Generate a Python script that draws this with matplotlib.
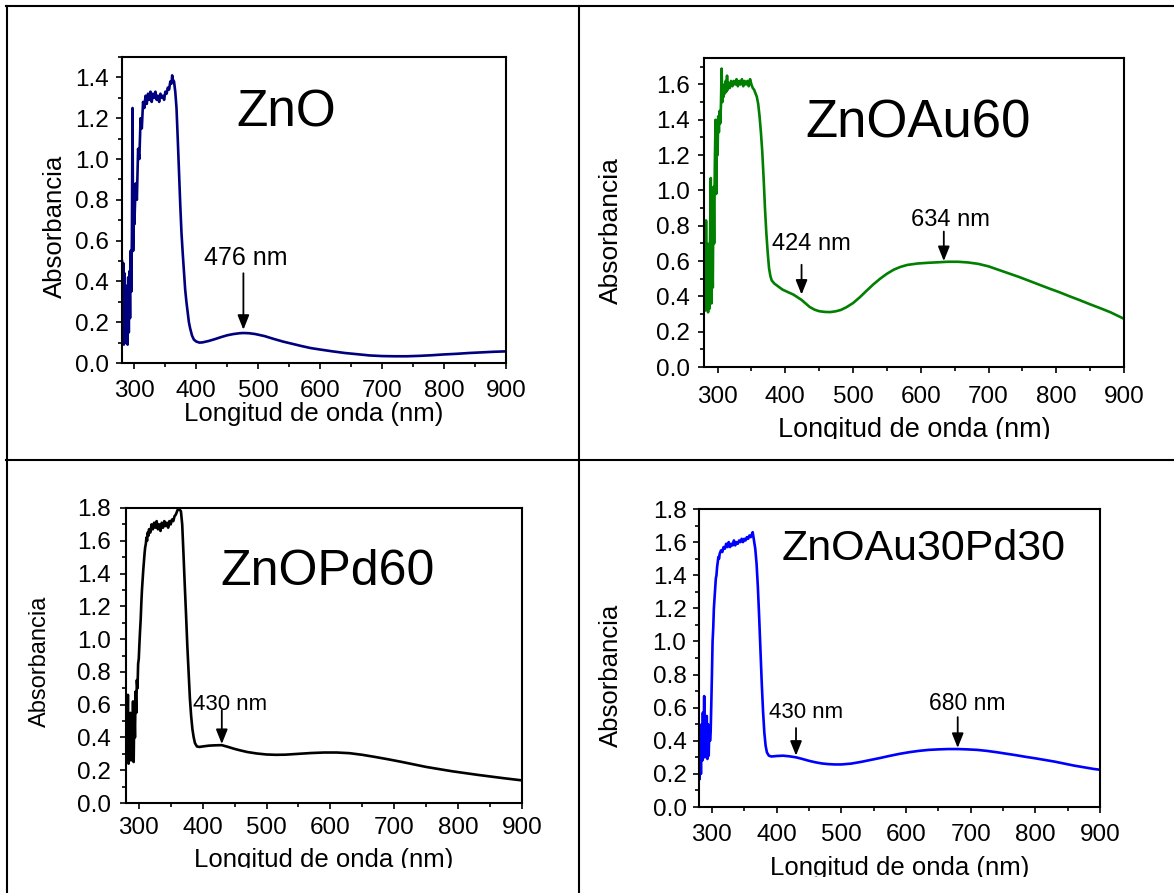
import matplotlib
matplotlib.use("Agg")
import matplotlib.pyplot as plt
from matplotlib.lines import Line2D
from matplotlib.transforms import Bbox, TransformedBbox
from matplotlib.ticker import MultipleLocator

plt.rcParams['font.family'] = ['Liberation Sans', 'DejaVu Sans']

# ---------------- data: UV-Vis absorbance spectra ----------------
wl_zno = [280, 281, 282, 283, 284, 285, 286, 287, 288, 289, 290, 291, 292, 293, 294, 295,
          296, 297, 298, 299, 300, 302, 304, 306, 308, 310, 312, 314, 316, 318, 320, 322,
          324, 326, 328, 330, 332, 334, 336, 338, 340, 342, 344, 346, 348, 350, 352, 354,
          356, 358, 360, 361, 362, 364, 366, 368, 370, 372, 374, 376, 378, 380, 382, 384,
          386, 388, 390, 393, 396, 400, 405, 410, 420, 430, 440, 450, 460, 470, 476, 485,
          495, 510, 525, 540, 555, 570, 585, 600, 620, 640, 660, 680, 700, 720, 740, 760,
          780, 800, 820, 840, 860, 880, 900]
abs_zno = [0.50, 0.12, 0.49, 0.09, 0.44, 0.10, 0.38, 0.12, 0.30, 0.09, 0.42, 0.15, 0.45, 0.22, 0.55, 0.35,
           0.62, 1.25, 0.55, 0.80, 0.68, 0.88, 0.80, 1.05, 1.00, 1.20, 1.15, 1.28, 1.25, 1.31, 1.27, 1.32,
           1.29, 1.33, 1.28, 1.32, 1.30, 1.33, 1.29, 1.31, 1.28, 1.32, 1.30, 1.31, 1.29, 1.33, 1.32, 1.35,
           1.34, 1.38, 1.37, 1.41, 1.39, 1.38, 1.33, 1.25, 1.10, 0.94, 0.78, 0.64, 0.54, 0.45, 0.36, 0.30,
           0.25, 0.20, 0.17, 0.135, 0.115, 0.105, 0.100, 0.101, 0.108, 0.117, 0.127, 0.136, 0.142, 0.146, 0.147, 0.146,
           0.142, 0.132, 0.118, 0.105, 0.094, 0.083, 0.073, 0.066, 0.057, 0.049, 0.043, 0.037, 0.034, 0.033, 0.033, 0.035,
           0.038, 0.042, 0.045, 0.049, 0.052, 0.055, 0.057]

wl_au60 = [280, 281, 282, 283, 284, 285, 286, 287, 288, 289, 290, 291, 292, 293, 294, 295,
           296, 297, 298, 299, 300, 301, 302, 303, 304, 305, 306, 307, 308, 309, 310, 311,
           312, 313, 314, 315, 316, 318, 320, 322, 324, 326, 328, 330, 332, 334, 336, 338,
           340, 342, 344, 346, 348, 350, 352, 354, 356, 358, 360, 362, 364, 366, 368, 370,
           372, 374, 376, 378, 380, 384, 390, 396, 404, 412, 420, 424, 430, 436, 443, 450,
           458, 466, 474, 482, 490, 500, 510, 520, 530, 540, 550, 560, 570, 580, 595, 610,
           625, 640, 655, 670, 685, 700, 715, 730, 745, 760, 775, 790, 805, 820, 835, 850,
           865, 880, 900]
abs_au60 = [0.35, 0.60, 0.32, 0.83, 0.40, 0.70, 0.31, 0.58, 0.33, 0.75, 1.07, 0.36, 0.72, 0.45, 1.02, 0.70,
            1.15, 1.40, 0.98, 1.30, 1.20, 1.42, 1.33, 1.45, 1.38, 1.48, 1.69, 1.50, 1.58, 1.53, 1.60, 1.55,
            1.62, 1.56, 1.65, 1.57, 1.61, 1.58, 1.62, 1.59, 1.62, 1.60, 1.63, 1.59, 1.62, 1.60, 1.63, 1.59,
            1.62, 1.60, 1.62, 1.59, 1.63, 1.60, 1.58, 1.57, 1.55, 1.53, 1.49, 1.42, 1.33, 1.22, 1.07, 0.90,
            0.76, 0.65, 0.56, 0.515, 0.49, 0.472, 0.455, 0.438, 0.424, 0.41, 0.39, 0.38, 0.36, 0.34, 0.325, 0.316,
            0.312, 0.311, 0.315, 0.323, 0.338, 0.362, 0.395, 0.432, 0.468, 0.50, 0.528, 0.551, 0.567, 0.578, 0.586, 0.590,
            0.593, 0.596, 0.596, 0.592, 0.584, 0.570, 0.550, 0.530, 0.510, 0.488, 0.466, 0.444, 0.423, 0.400, 0.378, 0.355,
            0.333, 0.310, 0.273]

wl_pd60 = [282, 283, 284, 285, 286, 287, 288, 289, 290, 291, 292, 293, 294, 295, 296, 297,
           298, 299, 300, 301, 302, 303, 304, 305, 306, 307, 308, 309, 310, 311, 312, 313,
           314, 315, 316, 318, 320, 322, 324, 326, 328, 330, 332, 334, 336, 338, 340, 342,
           344, 346, 348, 350, 352, 354, 356, 358, 360, 362, 364, 366, 368, 370, 372, 374,
           376, 378, 380, 382, 384, 386, 388, 391, 395, 400, 410, 420, 430, 440, 450, 460,
           470, 485, 500, 515, 530, 550, 570, 590, 610, 630, 650, 670, 690, 710, 730, 750,
           770, 790, 810, 830, 850, 870, 885, 900]
abs_pd60 = [0.40, 0.66, 0.24, 0.45, 0.28, 0.55, 0.26, 0.48, 0.30, 0.62, 0.25, 0.58, 0.40, 0.68, 0.55, 0.75,
            0.70, 0.85, 0.88, 0.97, 1.05, 1.12, 1.22, 1.30, 1.36, 1.42, 1.47, 1.52, 1.56, 1.58, 1.62, 1.60,
            1.65, 1.63, 1.67, 1.65, 1.70, 1.67, 1.71, 1.68, 1.72, 1.67, 1.70, 1.66, 1.71, 1.68, 1.72, 1.69,
            1.71, 1.68, 1.72, 1.70, 1.73, 1.72, 1.75, 1.76, 1.78, 1.80, 1.79, 1.78, 1.70, 1.52, 1.33, 1.15,
            0.96, 0.80, 0.64, 0.53, 0.45, 0.40, 0.365, 0.345, 0.342, 0.345, 0.350, 0.352, 0.353, 0.342, 0.330, 0.320,
            0.311, 0.302, 0.296, 0.294, 0.295, 0.300, 0.305, 0.308, 0.308, 0.304, 0.294, 0.281, 0.267, 0.252, 0.236, 0.220,
            0.207, 0.194, 0.183, 0.172, 0.162, 0.152, 0.145, 0.138]

wl_aupd = [281, 282, 283, 284, 285, 286, 287, 288, 289, 290, 291, 292, 293, 294, 295, 296,
           297, 298, 299, 300, 301, 302, 303, 304, 305, 306, 307, 308, 309, 310, 311, 312,
           314, 316, 318, 320, 322, 324, 326, 328, 330, 332, 334, 336, 338, 340, 342, 344,
           346, 348, 350, 352, 354, 356, 358, 360, 362, 363, 365, 367, 369, 371, 373, 375,
           377, 379, 381, 383, 385, 388, 392, 400, 410, 420, 430, 440, 450, 460, 470, 480,
           490, 500, 515, 530, 545, 560, 575, 590, 605, 620, 635, 650, 665, 680, 695, 710,
           725, 740, 755, 770, 785, 800, 815, 830, 845, 860, 875, 890, 900]
abs_aupd = [0.17, 0.45, 0.20, 0.50, 0.28, 0.57, 0.35, 0.67, 0.30, 0.52, 0.33, 0.55, 0.29, 0.50, 0.31, 0.48,
            0.40, 0.45, 0.62, 0.80, 1.00, 1.08, 1.20, 1.26, 1.32, 1.38, 1.40, 1.45, 1.48, 1.51, 1.50, 1.53,
            1.55, 1.54, 1.57, 1.56, 1.59, 1.57, 1.60, 1.57, 1.59, 1.58, 1.61, 1.58, 1.60, 1.59, 1.61, 1.60,
            1.62, 1.60, 1.62, 1.61, 1.63, 1.62, 1.64, 1.63, 1.65, 1.66, 1.61, 1.56, 1.47, 1.33, 1.15, 0.95,
            0.75, 0.58, 0.45, 0.37, 0.33, 0.31, 0.305, 0.308, 0.310, 0.306, 0.300, 0.290, 0.279, 0.270, 0.263, 0.259,
            0.257, 0.257, 0.262, 0.272, 0.284, 0.296, 0.309, 0.321, 0.331, 0.339, 0.345, 0.348, 0.350, 0.350, 0.348, 0.345,
            0.339, 0.331, 0.322, 0.313, 0.303, 0.294, 0.284, 0.274, 0.262, 0.250, 0.240, 0.230, 0.225]

names = ['ZnO', 'ZnOAu60', 'ZnOPd60', 'ZnOAu30Pd30']
peak_labels = [[476], [424, 634], [430], [430, 680]]

# ---------------- figure & table grid ----------------
W, H = 1174, 893
fig = plt.figure(figsize=(W / 100, H / 100), dpi=100)
fig.patch.set_facecolor('white')


def fx(px):
    return px / W


def fy(py):
    return 1 - py / H


for (x0, y0, x1, y1) in [(6.5, 6, 6.5, 893), (579, 6, 579, 893),
                         (5.5, 6, 1174, 6), (5.5, 460, 1174, 460)]:
    fig.add_artist(Line2D([fx(x0), fx(x1)], [fy(y0), fy(y1)], color='black', lw=1.5))

# panel geometry in pixels: left, top, right, bottom
panels = [
    dict(rect=(122, 57, 506, 363), ymax=1.5, color='#00007f', wl=wl_zno, a=abs_zno,
         title_xy=(546, 1.16), title_fs=37,
         ann=[dict(txt=(479, 0.481), arr=(476, 0.44, 0.163), fs=18)],
         xlab=(-0.1886, 18.5), ylab=(-0.1745, 0.446, 18.5), clip=None,
         xpad=8.0, ypad=5.0),
    dict(rect=(704, 58, 1124, 367), ymax=1.75, color='#007f00', wl=wl_au60, a=abs_au60,
         title_xy=(596, 1.30), title_fs=38,
         ann=[dict(txt=(439, 0.66), arr=(424, 0.579, 0.41), fs=17),
              dict(txt=(644, 0.80), arr=(634, 0.767, 0.60), fs=17)],
         xlab=(-0.2265, 19.5), ylab=(-0.2207, 0.44, 19.0), clip=439,
         xpad=9.5, ypad=6.0),
    dict(rect=(126, 508, 522, 803), ymax=1.8, color='black', wl=wl_pd60, a=abs_pd60,
         title_xy=(596, 1.33), title_fs=36,
         ann=[dict(txt=(443, 0.57), arr=(430, 0.567, 0.36), fs=16)],
         xlab=(-0.217, 18.5), ylab=(-0.218, 0.479, 17.0), clip=868,
         xpad=6.0, ypad=6.8),
    dict(rect=(699, 509, 1100, 807), ymax=1.8, color='#0000ff', wl=wl_aupd, a=abs_aupd,
         title_xy=(628, 1.49), title_fs=31,
         ann=[dict(txt=(446, 0.537), arr=(430, 0.477, 0.31), fs=16),
              dict(txt=(694, 0.587), arr=(680, 0.543, 0.357), fs=16.5)],
         xlab=(-0.228, 18.5), ylab=(-0.219, 0.441, 18.5), clip=877,
         xpad=8.0, ypad=4.8),
]

for i, p in enumerate(panels):
    l, t, r, b = p['rect']
    ax = fig.add_axes([fx(l), fy(b), (r - l) / W, (b - t) / H])
    ax.plot(p['wl'], p['a'], color=p['color'], lw=1.9, solid_joinstyle='round')
    ax.set_xlim(280, 900)
    ax.set_ylim(0, p['ymax'])
    ax.xaxis.set_major_locator(MultipleLocator(100))
    ax.xaxis.set_minor_locator(MultipleLocator(50))
    ax.yaxis.set_major_locator(MultipleLocator(0.2))
    ax.yaxis.set_minor_locator(MultipleLocator(0.1))
    ax.yaxis.set_major_formatter(matplotlib.ticker.FormatStrFormatter('%.1f'))
    for s in ax.spines.values():
        s.set_linewidth(1.5)
    ax.tick_params(which='both', direction='out', width=1.2, top=False, right=False)
    ax.tick_params(which='major', length=4.2, labelsize=17.5)
    ax.tick_params(which='minor', length=3.0)
    ax.tick_params(axis='x', which='major', pad=p['xpad'])
    ax.tick_params(axis='y', which='major', pad=p['ypad'])

    # sample name
    ax.text(p['title_xy'][0], p['title_xy'][1], names[i], fontsize=p['title_fs'],
            ha='center', va='baseline')

    # plasmon band markers
    for j, an in enumerate(p['ann']):
        wl_peak = peak_labels[i][j]
        ax.annotate('', xy=(wl_peak, an['arr'][2]), xytext=(wl_peak, an['arr'][1]),
                    arrowprops=dict(arrowstyle='-|>,head_length=0.55,head_width=0.22',
                                    color='black', lw=1.3, shrinkA=0, shrinkB=0,
                                    mutation_scale=16))
        ax.text(an['txt'][0], an['txt'][1], f'{wl_peak} nm', fontsize=an['fs'],
                ha='center', va='baseline')

    xl = ax.set_xlabel('Longitud de onda (nm)', fontsize=p['xlab'][1], va='baseline')
    ax.xaxis.set_label_coords(0.5, p['xlab'][0])
    ax.set_ylabel('Absorbancia', fontsize=p['ylab'][2], va='center')
    ax.yaxis.set_label_coords(p['ylab'][0], p['ylab'][1])

    if p['clip'] is not None:
        cx0 = 6 if l < 579 else 579
        cx1 = 579 if l < 579 else 1174
        cy0 = 6 if t < 460 else 460
        box = TransformedBbox(Bbox([[fx(cx0), fy(p['clip'])], [fx(cx1), fy(cy0)]]),
                              fig.transFigure)
        xl.set_clip_box(box)
        xl.set_clip_on(True)

fig.savefig('out.png', dpi=100)
